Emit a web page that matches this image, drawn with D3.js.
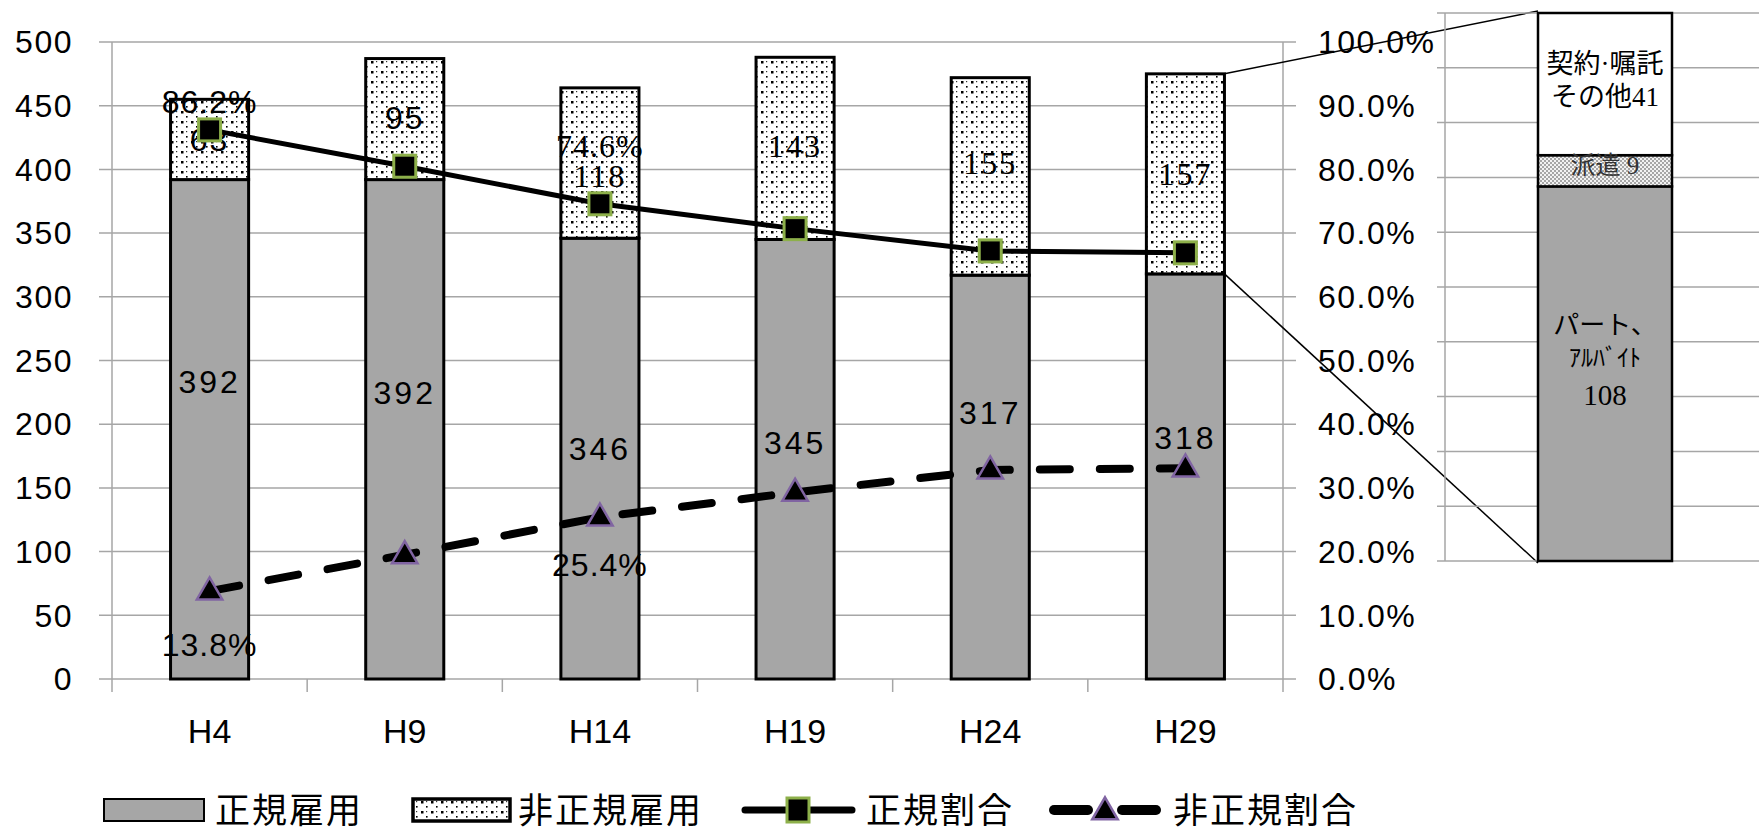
<!DOCTYPE html>
<html>
<head>
<meta charset="utf-8">
<script src="https://cdn.jsdelivr.net/npm/d3@7"></script>
<style>
  body { margin:0; background:#fff; }
  svg { display:block; }
</style>
</head>
<body>
<div id="chart"></div>
<script>
// ---- data ----
var years        = ["H4", "H9", "H14", "H19", "H24", "H29"];
var regular      = [392, 392, 346, 345, 317, 318];
var nonRegular   = [63, 95, 118, 143, 155, 157];
var regularRate  = [86.2, 80.5, 74.6, 70.7, 67.2, 66.9];
var nonRegRate   = [13.8, 19.5, 25.4, 29.3, 32.8, 33.1];
var leftTicks    = [0, 50, 100, 150, 200, 250, 300, 350, 400, 450, 500];
var rightTicks   = [0, 10, 20, 30, 40, 50, 60, 70, 80, 90, 100];
// breakdown of H29 non-regular employment
var breakdownKeys   = ["part", "dispatch", "contract"];
var breakdownValues = [108, 9, 41];
var seriesNames  = ["正規雇用", "非正規雇用", "正規割合", "非正規割合"];

// shown labels (only some are displayed in the original)
var rateLabelIdx    = [0, 2];

var W = 1759, H = 829;
var layout = {
  main: {left:112, right:1283, top:42, bottom:679},
  panel: {axis:1445, gridLeft:1437, barLeft:1538, barRight:1672, top:13, bottom:561}
};
var numFont = "'Liberation Sans', Arial, sans-serif";
var cjkFont = "'Noto Sans CJK JP', sans-serif";
var serifFont = "'Liberation Serif', 'Times New Roman', serif";
var panelFont = "'Liberation Serif', 'Noto Sans CJK JP', serif";

var svg = d3.select("#chart").append("svg")
  .attr("width", W).attr("height", H);

// patterns
var defs = svg.append("defs");
var dots = defs.append("pattern").attr("id", "dots")
  .attr("patternUnits", "userSpaceOnUse").attr("width", 10).attr("height", 10);
dots.append("rect").attr("width", 10).attr("height", 10).attr("fill", "#fff");
dots.append("rect").attr("x", 1).attr("y", 1).attr("width", 2.5).attr("height", 2.5).attr("fill", "#000");
dots.append("rect").attr("x", 6).attr("y", 6).attr("width", 1.6).attr("height", 1.6).attr("fill", "#000");
dots.append("rect").attr("x", 6).attr("y", 1).attr("width", 1.2).attr("height", 1.2).attr("fill", "#333");

var hatch = defs.append("pattern").attr("id", "hatch")
  .attr("patternUnits", "userSpaceOnUse").attr("width", 4).attr("height", 4);
hatch.append("rect").attr("width", 4).attr("height", 4).attr("fill", "#f2f2f2");
hatch.append("rect").attr("width", 2).attr("height", 2).attr("fill", "#a6a6a6");
hatch.append("rect").attr("x", 2).attr("y", 2).attr("width", 2).attr("height", 2).attr("fill", "#a6a6a6");

// scales
var m = layout.main;
var x = d3.scaleBand().domain(years).range([m.left, m.right]).paddingInner(0.6).paddingOuter(0.3);
var band = d3.scaleBand().domain(years).range([m.left, m.right]);
var y = d3.scaleLinear().domain([0, 500]).range([m.bottom, m.top]);
var yr = d3.scaleLinear().domain([0, 100]).range([m.bottom, m.top]);

// gridlines + tick marks
svg.append("g").selectAll("line").data(leftTicks).enter().append("line")
  .attr("x1", m.left - 13).attr("x2", m.right + 13)
  .attr("y1", function(d){ return y(d); }).attr("y2", function(d){ return y(d); })
  .attr("stroke", "#a6a6a6").attr("stroke-width", 1.5);

// axes lines
svg.append("line").attr("x1", m.left).attr("x2", m.left).attr("y1", m.top).attr("y2", m.bottom)
  .attr("stroke", "#a6a6a6").attr("stroke-width", 1.5);
svg.append("line").attr("x1", m.right).attr("x2", m.right).attr("y1", m.top).attr("y2", m.bottom)
  .attr("stroke", "#a6a6a6").attr("stroke-width", 1.5);
svg.append("g").selectAll("line").data(years.concat(["end"])).enter().append("line")
  .attr("x1", function(d, i){ return m.left + i * band.bandwidth(); })
  .attr("x2", function(d, i){ return m.left + i * band.bandwidth(); })
  .attr("y1", m.bottom).attr("y2", m.bottom + 13)
  .attr("stroke", "#a6a6a6").attr("stroke-width", 1.5);

// left axis labels
svg.append("g").selectAll("text").data(leftTicks).enter().append("text")
  .attr("x", 73).attr("y", function(d){ return y(d); }).attr("dy", "0.35em")
  .attr("text-anchor", "end")
  .style("font-family", numFont).style("font-size", "32px").style("letter-spacing", "1.5px")
  .text(function(d){ return d; });

// right axis labels
svg.append("g").selectAll("text").data(rightTicks).enter().append("text")
  .attr("x", 1318).attr("y", function(d){ return yr(d); }).attr("dy", "0.35em")
  .style("font-family", numFont).style("font-size", "32px").style("letter-spacing", "1.5px")
  .text(function(d){ return d.toFixed(1) + "%"; });

// category labels
svg.append("g").selectAll("text").data(years).enter().append("text")
  .attr("x", function(d){ return band(d) + band.bandwidth() / 2; }).attr("y", 731).attr("dy", "0.35em")
  .attr("text-anchor", "middle")
  .style("font-family", numFont).style("font-size", "34px")
  .text(function(d){ return d; });

// stacked bars
var barG = svg.append("g");
barG.selectAll("rect.reg").data(years).enter().append("rect").attr("class", "reg")
  .attr("x", function(d){ return x(d); }).attr("width", x.bandwidth())
  .attr("y", function(d, i){ return y(regular[i]); })
  .attr("height", function(d, i){ return y(0) - y(regular[i]); })
  .attr("fill", "#a6a6a6").attr("stroke", "#000").attr("stroke-width", 3);
barG.selectAll("rect.non").data(years).enter().append("rect").attr("class", "non")
  .attr("x", function(d){ return x(d); }).attr("width", x.bandwidth())
  .attr("y", function(d, i){ return y(regular[i] + nonRegular[i]); })
  .attr("height", function(d, i){ return y(regular[i]) - y(regular[i] + nonRegular[i]); })
  .attr("fill", "url(#dots)").attr("stroke", "#000").attr("stroke-width", 3);

// connector lines from H29 to breakdown bar
var p = layout.panel;
var last = years.length - 1;
svg.append("line")
  .attr("x1", x(years[last]) + x.bandwidth()).attr("y1", y(regular[last] + nonRegular[last]))
  .attr("x2", p.barLeft).attr("y2", p.top - 2)
  .attr("stroke", "#000").attr("stroke-width", 1.5);
svg.append("line")
  .attr("x1", x(years[last]) + x.bandwidth()).attr("y1", y(regular[last]))
  .attr("x2", p.barLeft).attr("y2", p.bottom + 2)
  .attr("stroke", "#000").attr("stroke-width", 1.5);

// bar value labels (positions tuned as in the original)
var regLabelY = [382, 393, 449, 443, 413, 438];
var nonLabelY = [140, 118, 176, 146, 163, 174];
svg.append("g").selectAll("text").data(years).enter().append("text")
  .attr("x", function(d){ return x(d) + x.bandwidth() / 2; })
  .attr("y", function(d, i){ return regLabelY[i]; }).attr("dy", "0.35em")
  .attr("text-anchor", "middle")
  .style("font-family", numFont).style("font-size", "32px").style("letter-spacing", "3px")
  .text(function(d, i){ return regular[i]; });
svg.append("g").selectAll("text").data(years).enter().append("text")
  .attr("x", function(d){ return x(d) + x.bandwidth() / 2; })
  .attr("y", function(d, i){ return nonLabelY[i]; }).attr("dy", "0.35em")
  .attr("text-anchor", "middle")
  .style("font-family", function(d, i){ return i < 2 ? numFont : serifFont; })
  .style("font-size", "32px").style("letter-spacing", "2px")
  .text(function(d, i){ return nonRegular[i]; });

// rate lines
var cx = function(d, i){ return band(years[i]) + band.bandwidth() / 2; };
var regLine = d3.line().x(function(d, i){ return cx(d, i); }).y(function(d){ return yr(d); });
svg.append("path").datum(regularRate).attr("d", regLine)
  .attr("fill", "none").attr("stroke", "#000").attr("stroke-width", 5);
svg.append("path").datum(nonRegRate).attr("d", regLine)
  .attr("fill", "none").attr("stroke", "#000").attr("stroke-width", 8)
  .attr("stroke-dasharray", "30,30").attr("stroke-linecap", "round");

svg.append("g").selectAll("rect").data(regularRate).enter().append("rect")
  .attr("x", function(d, i){ return cx(d, i) - 11; }).attr("y", function(d){ return yr(d) - 11; })
  .attr("width", 22).attr("height", 22)
  .attr("fill", "#000").attr("stroke", "#8db04a").attr("stroke-width", 3);
var tri = d3.symbol().type(d3.symbolTriangle).size(280);
svg.append("g").selectAll("path").data(nonRegRate).enter().append("path")
  .attr("d", tri)
  .attr("transform", function(d, i){ return "translate(" + cx(d, i) + "," + (yr(d) + 1) + ")"; })
  .attr("fill", "#000").attr("stroke", "#8064a2").attr("stroke-width", 2.5);

// rate labels (H4, H14 only)
var rateLabG = svg.append("g");
rateLabelIdx.forEach(function(i){
  rateLabG.append("text")
    .attr("x", cx(null, i)).attr("y", yr(regularRate[i]) - (i === 0 ? 28 : 58)).attr("dy", "0.35em")
    .attr("text-anchor", "middle")
    .style("font-family", i === 0 ? numFont : serifFont).style("font-size", "32px").style("letter-spacing", "1px")
    .text(regularRate[i].toFixed(1) + "%");
  rateLabG.append("text")
    .attr("x", cx(null, i)).attr("y", yr(nonRegRate[i]) + (i === 0 ? 54 : 48)).attr("dy", "0.35em")
    .attr("text-anchor", "middle")
    .style("font-family", numFont).style("font-size", "32px").style("letter-spacing", "1px")
    .text(nonRegRate[i].toFixed(1) + "%");
});

// ---- breakdown panel ----
var py = d3.scaleLinear().domain([0, d3.sum(breakdownValues)]).range([p.bottom, p.top]);
var pg = d3.scaleLinear().domain([0, 10]).range([p.bottom, p.top]);
svg.append("g").selectAll("line").data(d3.range(11)).enter().append("line")
  .attr("x1", p.gridLeft).attr("x2", W)
  .attr("y1", function(d){ return pg(d); }).attr("y2", function(d){ return pg(d); })
  .attr("stroke", "#a6a6a6").attr("stroke-width", 1.5);
svg.append("line").attr("x1", p.axis).attr("x2", p.axis).attr("y1", p.top).attr("y2", p.bottom)
  .attr("stroke", "#a6a6a6").attr("stroke-width", 1.5);

var stackRow = {};
breakdownKeys.forEach(function(k, i){ stackRow[k] = breakdownValues[i]; });
var stacked = d3.stack().keys(breakdownKeys)([stackRow]);
var fills = {part:"#a6a6a6", dispatch:"url(#hatch)", contract:"#fff"};
svg.append("g").selectAll("rect").data(stacked).enter().append("rect")
  .attr("x", p.barLeft).attr("width", p.barRight - p.barLeft)
  .attr("y", function(d){ return py(d[0][1]); })
  .attr("height", function(d){ return py(d[0][0]) - py(d[0][1]); })
  .attr("fill", function(d){ return fills[d.key]; })
  .attr("stroke", "#000").attr("stroke-width", 2.5);

var pcx = (p.barLeft + p.barRight) / 2;
var panelLabels = [
  {t:"契約·嘱託", y:64, size:27, fill:"#000"},
  {t:"その他" + breakdownValues[2], y:97, size:27, fill:"#000"},
  {t:"派遣  " + breakdownValues[1], y:165, size:25, fill:"#333"},
  {t:"パート、", y:325, size:26, fill:"#000"},
  {t:"ｱﾙﾊﾞｲﾄ", y:358, size:24, fill:"#000"},
  {t:String(breakdownValues[0]), y:395, size:29, fill:"#000"}
];
svg.append("g").selectAll("text").data(panelLabels).enter().append("text")
  .attr("x", pcx).attr("y", function(d){ return d.y; }).attr("dy", "0.35em")
  .attr("text-anchor", "middle")
  .style("font-family", panelFont).style("font-size", function(d){ return d.size + "px"; })
  .attr("fill", function(d){ return d.fill; })
  .text(function(d){ return d.t; });

// ---- legend ----
var lg = svg.append("g").attr("transform", "translate(0,810)");
lg.append("rect").attr("x", 104).attr("y", -11).attr("width", 100).attr("height", 22)
  .attr("fill", "#a6a6a6").attr("stroke", "#000").attr("stroke-width", 2);
lg.append("rect").attr("x", 413).attr("y", -11).attr("width", 97).attr("height", 22)
  .attr("fill", "url(#dots)").attr("stroke", "#000").attr("stroke-width", 3.5);
lg.append("line").attr("x1", 745).attr("x2", 852).attr("y1", 0).attr("y2", 0)
  .attr("stroke", "#000").attr("stroke-width", 7).attr("stroke-linecap", "round");
lg.append("rect").attr("x", 787).attr("y", -12).attr("width", 22).attr("height", 24)
  .attr("fill", "#000").attr("stroke", "#8db04a").attr("stroke-width", 3);
// dashed legend sample: one dash on each side of the marker
[[1054, 1088], [1122, 1156]].forEach(function(s){
  lg.append("line").attr("x1", s[0]).attr("x2", s[1]).attr("y1", 0).attr("y2", 0)
    .attr("stroke", "#000").attr("stroke-width", 10).attr("stroke-linecap", "round");
});
lg.append("path").attr("d", tri).attr("transform", "translate(1105,2)")
  .attr("fill", "#000").attr("stroke", "#8064a2").attr("stroke-width", 2.5);
var legendX = [215, 518, 866, 1173];
lg.selectAll("text").data(seriesNames).enter().append("text")
  .attr("x", function(d, i){ return legendX[i]; }).attr("y", 0).attr("dy", "0.36em")
  .style("font-family", cjkFont).style("font-size", "35px").style("letter-spacing", "2px")
  .text(function(d){ return d; });
</script>
</body>
</html>
